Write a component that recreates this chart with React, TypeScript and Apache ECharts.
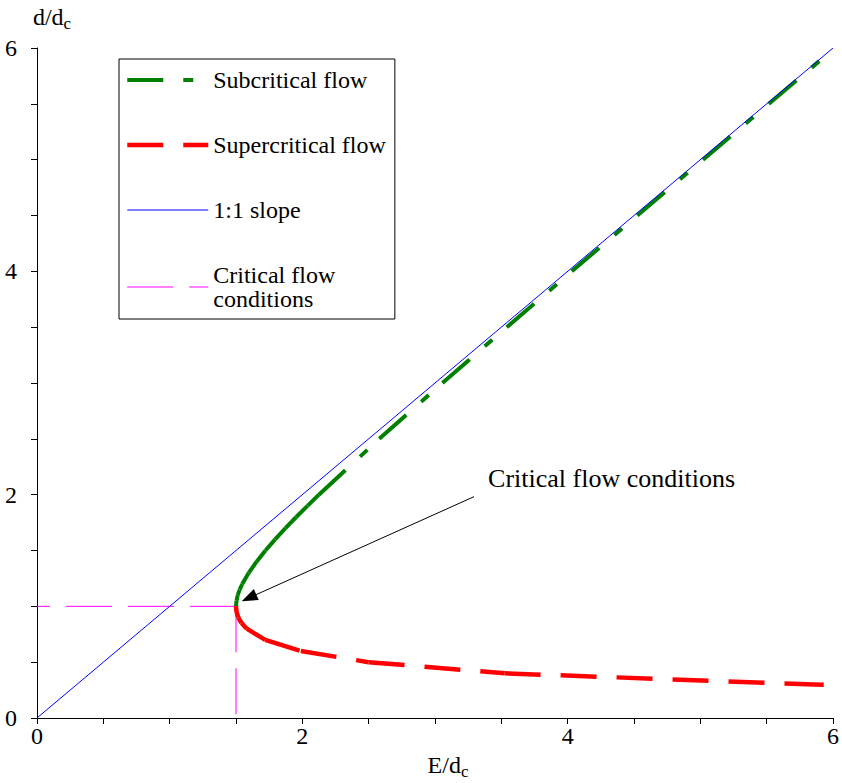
import React, { useEffect, useRef } from "react";
import * as echarts from "echarts";

// ---- data ----
// Subcritical branch (d/dc >= 1): E/dc and d/dc
const subcriticalD = [1.0, 1.05, 1.1, 1.15, 1.2, 1.3, 1.4, 1.5, 1.6, 1.7, 1.8, 1.9, 2.0, 2.5, 3.0, 3.5, 4.0, 4.5, 5.0, 5.5, 5.9];
const subcriticalE = [1.5, 1.504, 1.513, 1.528, 1.547, 1.596, 1.655, 1.722, 1.795, 1.873, 1.954, 2.039, 2.125, 2.58, 3.056, 3.541, 4.031, 4.525, 5.02, 5.517, 5.914];
// Supercritical branch (d/dc <= 1)
const supercriticalD = [1.0, 0.95, 0.9, 0.85, 0.8, 0.7, 0.6, 0.5, 0.4, 0.3, 0.298];
const supercriticalE = [1.5, 1.504, 1.517, 1.542, 1.581, 1.72, 1.989, 2.5, 3.525, 5.856, 5.93];
// 1:1 slope
const slopeE = [0, 6];
const slopeD = [0, 6];
// Critical flow conditions
const criticalE = 1.5;
const criticalD = 1.0;
// tick labels
const xTickLabels = [0, 2, 4, 6];
const yTickLabels = [0, 2, 4, 6];
// annotation
const annotationText = "Critical flow conditions";
const arrowStart = [3.294, 1.982];
const arrowEnd = [1.598, 1.076];
const annotationAt = [3.4, 2.144];

const FONT = "Liberation Serif";

function pairs(E: number[], D: number[]) {
  return E.map((e, i) => [e, D[i]]);
}

// Excel restarts the dash pattern on every segment, so each segment is its own series
function segmentSeries(E: number[], D: number[], name: string, lineStyle: any) {
  const pts = pairs(E, D);
  const out: any[] = [];
  for (let i = 0; i < pts.length - 1; i++) {
    out.push({
      type: "line",
      name,
      data: [pts[i], pts[i + 1]],
      symbol: "none",
      silent: true,
      itemStyle: { color: lineStyle.color },
      lineStyle,
    });
  }
  return out;
}

export default function App() {
  const ref = useRef<HTMLDivElement>(null);

  useEffect(() => {
    if (!ref.current) return;
    const chart = echarts.init(ref.current, undefined, { renderer: "svg" });

    const greenStyle = { color: "#008000", width: 4, type: [36, 20, 10, 20], cap: "butt" };
    const redStyle = { color: "#ff0000", width: 4.5, type: [36, 20], cap: "butt" };
    const magentaStyle = { color: "#ff00ff", width: 1, type: [46, 16] };

    const series: any[] = [
      {
        type: "line",
        name: "Critical flow conditions",
        data: [[criticalE, criticalD], [0, criticalD]],
        symbol: "none",
        silent: true,
        itemStyle: { color: "#ff00ff" },
        lineStyle: magentaStyle,
      },
      {
        type: "line",
        name: "Critical flow conditions",
        data: [[criticalE, criticalD], [criticalE, 0]],
        symbol: "none",
        silent: true,
        itemStyle: { color: "#ff00ff" },
        lineStyle: magentaStyle,
      },
      ...segmentSeries(subcriticalE, subcriticalD, "Subcritical flow", greenStyle),
      ...segmentSeries(supercriticalE, supercriticalD, "Supercritical flow", redStyle),
      {
        type: "line",
        name: "1:1 slope",
        data: pairs(slopeE, slopeD),
        symbol: "none",
        silent: true,
        itemStyle: { color: "#0000ff" },
        lineStyle: { color: "#0000ff", width: 1 },
      },
      {
        type: "line",
        name: "annotation",
        data: [],
        silent: true,
        markLine: {
          silent: true,
          symbol: ["none", "triangle"],
          symbolSize: [12, 16],
          lineStyle: { color: "#000", width: 1, type: "solid" },
          label: { show: false },
          data: [[{ coord: arrowStart }, { coord: arrowEnd }]],
        },
        markPoint: {
          silent: true,
          symbol: "circle",
          symbolSize: 0,
          itemStyle: { color: "transparent" },
          label: {
            show: true,
            position: "right",
            distance: 0,
            formatter: annotationText,
            fontFamily: FONT,
            fontSize: 26,
            color: "#000",
          },
          data: [{ coord: annotationAt }],
        },
      },
    ];

    const axisCommon = {
      type: "value",
      min: 0,
      max: 6,
      interval: 0.5,
      splitLine: { show: false },
      axisLine: { show: true, onZero: false, lineStyle: { color: "#000", width: 1 } },
      axisTick: { show: true, length: 6, inside: false, lineStyle: { color: "#000", width: 1 } },
    };

    chart.setOption({
      animation: false,
      backgroundColor: "#fff",
      textStyle: { fontFamily: FONT },
      grid: { left: 37, right: 9, top: 48, bottom: 65, containLabel: false, outerBoundsMode: "none" },
      legend: {
        orient: "vertical",
        left: 119,
        top: 59,
        itemWidth: 81,
        itemHeight: 14,
        itemGap: 41,
        padding: [9, 9, 8, 6],
        borderColor: "#000",
        borderWidth: 1,
        backgroundColor: "#fff",
        selectedMode: false,
        itemStyle: { color: "rgba(0,0,0,0)", borderWidth: 0, opacity: 0 },
        lineStyle: { width: "inherit", type: "inherit" },
        textStyle: { fontFamily: FONT, fontSize: 24, lineHeight: 24, color: "#000" },
        formatter: (n: string) => (n === "Critical flow conditions" ? "Critical flow\nconditions" : n),
        data: ["Subcritical flow", "Supercritical flow", "1:1 slope", "Critical flow conditions"],
      },
      xAxis: {
        ...axisCommon,
        name: "{a|E/d}{b|c}",
        nameLocation: "middle",
        nameGap: 36,
        nameTextStyle: {
          padding: [0, 0, 0, 26],
          rich: {
            a: { fontFamily: FONT, fontSize: 24, lineHeight: 22, color: "#000", verticalAlign: "bottom", padding: [0, 0, 3, 0] },
            b: { fontFamily: FONT, fontSize: 17, lineHeight: 16, color: "#000", verticalAlign: "bottom" },
          },
        },
        axisLabel: {
          margin: 6,
          fontFamily: FONT,
          fontSize: 24,
          color: "#000",
          formatter: (v: number) => (xTickLabels.includes(v) ? String(v) : ""),
        },
      },
      yAxis: {
        ...axisCommon,
        name: "{a|d/d}{b|c}",
        nameLocation: "end",
        nameGap: 16,
        nameTextStyle: {
          align: "center",
          padding: [0, 0, 0, 30],
          rich: {
            a: { fontFamily: FONT, fontSize: 24, color: "#000", verticalAlign: "bottom", padding: [0, 0, 3, 0] },
            b: { fontFamily: FONT, fontSize: 17, color: "#000", verticalAlign: "bottom" },
          },
        },
        axisLabel: {
          margin: 20,
          fontFamily: FONT,
          fontSize: 24,
          color: "#000",
          formatter: (v: number) => (yTickLabels.includes(v) ? String(v) : ""),
        },
      },
      series,
    });

    return () => chart.dispose();
  }, []);

  return <div ref={ref} style={{ width: 842, height: 783, position: "absolute", left: 0, top: 0 }} />;
}
